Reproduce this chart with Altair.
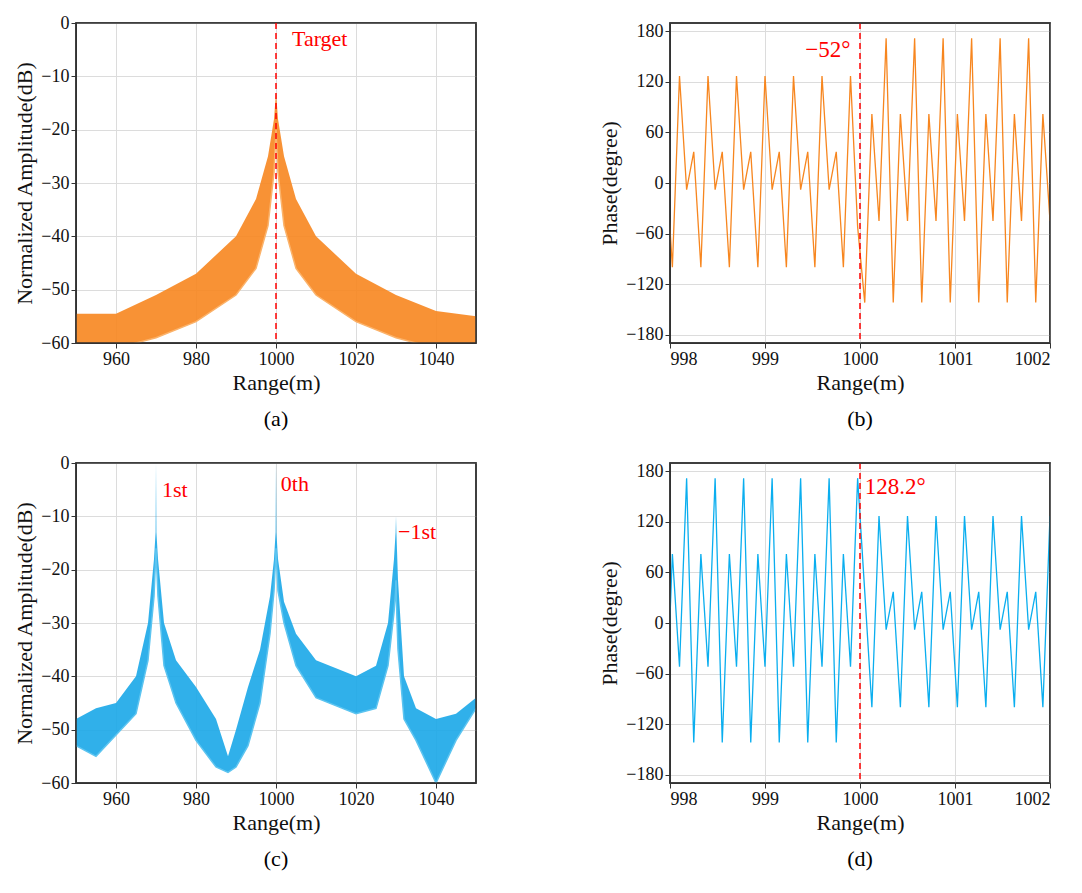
import altair as alt
import pandas as pd

# phase samples (range step 0.075 m)
phase_x = [997.95, 998.025, 998.1, 998.175, 998.25, 998.325, 998.4, 998.475, 998.55, 998.625, 998.7,
           998.775, 998.85, 998.925, 999.0, 999.075, 999.15, 999.225, 999.3, 999.375, 999.45,
           999.525, 999.6, 999.675, 999.75, 999.825, 999.9, 999.975, 1000.05, 1000.125, 1000.2,
           1000.275, 1000.35, 1000.425, 1000.5, 1000.575, 1000.65, 1000.725, 1000.8, 1000.875,
           1000.95, 1001.025, 1001.1, 1001.175, 1001.25, 1001.325, 1001.4, 1001.475, 1001.55,
           1001.625, 1001.7, 1001.775, 1001.85, 1001.925, 1002.0]
phase_b = [37, -100, 127, -8, 37, -100, 127, -8, 37, -100, 127, -8, 37, -100, 127, -8, 37,
           -100, 127, -8, 37, -100, 127, -8, 37, -100, 127, -52, -142, 82, -45, 172, -142, 82,
           -45, 172, -142, 82, -45, 172, -142, 82, -45, 172, -142, 82, -45, 172, -142, 82, -45,
           172, -142, 82, -45]
phase_d = [-142, 82, -52, 172, -142, 82, -52, 172, -142, 82, -52, 172, -142, 82, -52, 172,
           -142, 82, -52, 172, -142, 82, -52, 172, -142, 82, -52, 172, 37, -100, 127, -8, 37,
           -100, 127, -8, 37, -100, 127, -8, 37, -100, 127, -8, 37, -100, 127, -8, 37, -100,
           127, -8, 37, -100, 127]

# amplitude envelopes
amp_a_x = [950, 960, 970, 980, 990, 995, 998, 999.5, 1000, 1000.5, 1002, 1005, 1010, 1020, 1030, 1040, 1050]
amp_a_hi = [-54.5, -54.5, -51, -47, -40, -33, -25, -18, -13, -18, -25, -33, -40, -47, -51, -54, -55]
amp_a_lo = [-62, -61, -59, -56, -51, -46, -38, -28, -20, -28, -38, -46, -51, -56, -59, -61, -62]

amp_c_x = [950, 955, 960, 965, 968, 969.5, 969.9, 970, 970.1, 970.5, 972, 975, 980, 985, 988, 990, 993,
           996, 998.5, 999.5, 999.9, 1000, 1000.1, 1000.5, 1002, 1005, 1010, 1020, 1025, 1028,
           1029.5, 1029.9, 1030, 1030.1, 1030.5, 1032, 1035, 1040, 1045, 1050]
amp_c_hi = [-48, -46, -45, -40, -30, -18, -13, 0, -13, -18, -30, -37, -42, -48, -55, -50, -42,
            -35, -25, -18, -13, 0, -13, -18, -26, -32, -37, -40, -38, -30,
            -18, -13, -10, -13, -22, -40, -46, -48, -47, -44]
amp_c_lo = [-53, -55, -51, -47, -37, -25, -18, -16, -18, -25, -38, -45, -52, -57, -58, -57, -53,
            -45, -32, -24, -18, -16, -18, -24, -30, -38, -44, -47, -46, -38,
            -28, -24, -22, -26, -35, -48, -52, -60, -52, -46]

FONT = "Liberation Serif"
W, H = 400, 320
WP = 380


def axis(vals, fmt=None):
    kw = dict(values=vals, labelFontSize=18, titleFontSize=22, labelFont=FONT, titleFont=FONT,
              titleFontWeight="normal", gridColor="#dcdcdc", tickColor="#333", domainColor="#333",
              labelColor="#111", titleColor="#111")
    if fmt:
        kw["format"] = fmt
    return alt.Axis(**kw)


def title(t):
    return alt.Title(t, orient="bottom", font=FONT, fontSize=22, fontWeight="normal", offset=16)


def frame(w):
    return alt.Chart(pd.DataFrame({"a": [0]})).mark_rect(
        fill=None, stroke="#333", strokeWidth=1.5).encode(
        x=alt.value(0), x2=alt.value(w), y=alt.value(0), y2=alt.value(H))


def amp_panel(x, hi, lo, color, light, texts):
    df = pd.DataFrame({"x": x, "hi": hi, "lo": lo})
    xs = alt.X("x:Q", scale=alt.Scale(domain=[950, 1050], nice=False), title="Range(m)",
               axis=axis([960, 980, 1000, 1020, 1040], "d"))
    band = alt.Chart(df).mark_area(color=color, opacity=0.9, clip=True).encode(
        x=xs, y=alt.Y("hi:Q", scale=alt.Scale(domain=[-60, 0], nice=False),
                      title="Normalized Amplitude(dB)",
                      axis=axis([-60, -50, -40, -30, -20, -10, 0])),
        y2="lo:Q")
    edge = alt.Chart(df).mark_line(color=light, strokeWidth=1.5, clip=True).encode(x=xs, y="lo:Q")
    tdf = pd.DataFrame(texts, columns=["x", "y", "t"])
    txt = alt.Chart(tdf).mark_text(color="red", font=FONT, fontSize=22, align="left", dx=4).encode(
        x="x:Q", y="y:Q", text="t:N")
    return [band, edge, txt, frame(W)]


def phase_panel(vals, color, ttl, note, note_x, note_y, align):
    df = pd.DataFrame({"x": phase_x, "p": vals})
    line = alt.Chart(df).mark_line(color=color, strokeWidth=1.3, clip=True).encode(
        x=alt.X("x:Q", scale=alt.Scale(domain=[998, 1002], nice=False), title="Range(m)",
                axis=axis([998, 999, 1000, 1001, 1002], "d")),
        y=alt.Y("p:Q", scale=alt.Scale(domain=[-190, 190], nice=False), title="Phase(degree)",
                axis=axis([-180, -120, -60, 0, 60, 120, 180])))
    rule = alt.Chart(pd.DataFrame({"x": [1000]})).mark_rule(
        color="red", strokeDash=[6, 4], strokeWidth=1.5).encode(x="x:Q")
    txt = alt.Chart(pd.DataFrame({"x": [note_x], "y": [note_y], "t": [note]})).mark_text(
        color="red", font=FONT, fontSize=23, align=align).encode(x="x:Q", y="y:Q", text="t:N")
    return alt.layer(line, rule, txt, frame(WP)).properties(width=WP, height=H, title=title(ttl))


rule_a = alt.Chart(pd.DataFrame({"x": [1000]})).mark_rule(
    color="red", strokeDash=[6, 4], strokeWidth=1.5).encode(x="x:Q")

pa = alt.layer(*amp_panel(amp_a_x, amp_a_hi, amp_a_lo, "#f7861f", "#fbb36b",
                          [(1003, -3, "Target")]), rule_a).properties(width=W, height=H, title=title("(a)"))
pb = phase_panel(phase_b, "#f7861f", "(b)", "\u221252\u00b0", 999.9, 158, "right")
pc = alt.layer(*amp_panel(amp_c_x, amp_c_hi, amp_c_lo, "#1aa7e8", "#5cc4f0",
                          [(970.5, -5, "1st"), (1000.2, -4, "0th"), (1029.5, -13, "\u22121st")])
               ).properties(width=W, height=H, title=title("(c)"))
pd_ = phase_panel(phase_d, "#0aaeef", "(d)", "128.2\u00b0", 1000.05, 162, "left")

chart = alt.vconcat(
    alt.hconcat(pa, pb, spacing=120),
    alt.hconcat(pc, pd_, spacing=120),
    spacing=22,
).configure_view(stroke="#333", strokeWidth=1.5)

chart.save("out.html", embed_options={"renderer": "svg", "actions": False})
